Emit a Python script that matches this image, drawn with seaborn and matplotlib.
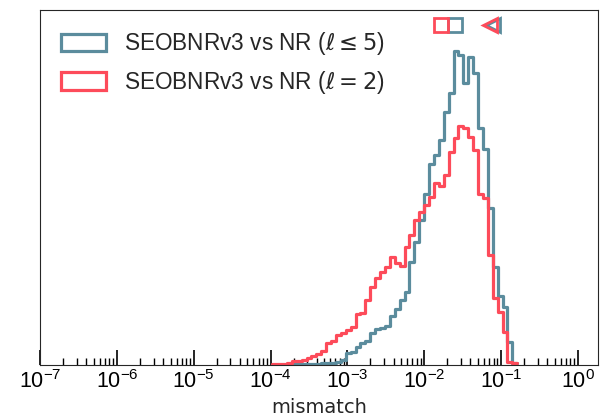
import numpy as np
import pandas as pd
import matplotlib
matplotlib.use("Agg")
import matplotlib.pyplot as plt
from matplotlib.patches import Patch
from matplotlib.ticker import LogLocator, NullLocator
import seaborn as sns

# shared log-spaced binning (log10 of mismatch)
log_lo, log_hi, n_bins = -3.978, -0.788, 50

# histogram counts per bin
hm_counts = [0, 0, 0, 0.3, 0.5, 0.5, 0.7, 0.8, 1, 1.2, 1.5, 1.8, 2.2,
             2.5, 5, 11.7, 13.3, 17.7, 21.5, 24, 31.7, 35.7, 36.7, 39,
             49, 55.7, 65, 73.3, 103.3, 123.3, 145, 171, 201, 210, 225,
             253.3, 272.3, 314.3, 310, 282.3, 307.7, 291.7, 236.7, 215.7,
             156.7, 98.3, 69, 58.3, 23.3, 1.7]
l2_counts = [0.7, 1, 1.3, 2.3, 4, 4.3, 5.3, 6.7, 9, 11, 14, 21.5, 24,
             30, 32.3, 35, 37.7, 51, 51.7, 65, 78.3, 86.7, 93.3, 97.7,
             108.3, 101.7, 99, 117.7, 130, 145, 153.3, 160, 168.3, 181.7,
             179, 190, 213.3, 226.7, 239, 236.7, 228.3, 215, 171, 166.7,
             110, 66.7, 53.3, 33.3, 3.3, 1.7]

# summary markers (median, 90th percentile)
hm_median, hm_p90 = 0.0254, 0.078
l2_median, l2_p90 = 0.0167, 0.0726

labels = [r"SEOBNRv3 vs NR ($\ell \leq 5$)", r"SEOBNRv3 vs NR ($\ell = 2$)"]
colors = ["#5b8c9d", "#fd4b5a"]

log_edges = np.linspace(log_lo, log_hi, n_bins + 1)
centers = 10 ** ((log_edges[:-1] + log_edges[1:]) / 2)
df = pd.DataFrame({"mismatch": centers, "hm": hm_counts, "l2": l2_counts})

sns.set_style("ticks")
plt.rcParams["font.family"] = ["Liberation Sans", "DejaVu Sans"]

fig, ax = plt.subplots(figsize=(6.08, 4.19), dpi=100)
fig.subplots_adjust(left=0.066, right=0.984, bottom=0.129, top=0.976)

for col, c in zip(["hm", "l2"], colors):
    sns.histplot(data=df, x="mismatch", weights=col, bins=n_bins,
                 binrange=(log_lo, log_hi), log_scale=True,
                 element="step", fill=False, color=c, linewidth=2.3, ax=ax)

# median and 90% markers above the histograms
trans = ax.get_xaxis_transform()
for med, p90, c in [(hm_median, hm_p90, colors[0]), (l2_median, l2_p90, colors[1])]:
    ax.plot([med], [0.959], marker="s", ms=10, mfc="none", mec=c, mew=2,
            transform=trans, clip_on=False, ls="none")
    ax.plot([p90], [0.959], marker="<", ms=10, mfc="none", mec=c, mew=2,
            transform=trans, clip_on=False, ls="none")

ax.set_xlim(1e-7, 1.85)
ax.set_ylim(0, 355)
ax.xaxis.set_major_locator(LogLocator(base=10, numticks=20))
ax.xaxis.set_minor_locator(LogLocator(base=10, subs=np.arange(2, 10), numticks=100))
ax.yaxis.set_major_locator(NullLocator())
ax.tick_params(axis="x", which="major", direction="in", length=11, width=1.2,
               labelsize=15.5, pad=4, colors="black")
ax.tick_params(axis="x", which="minor", direction="in", length=5, width=1,
               colors="black")
ax.set_ylabel("")
ax.set_xlabel("mismatch", fontsize=14, family="DejaVu Sans", labelpad=3)

handles = [Patch(facecolor="none", edgecolor=c, linewidth=2.3) for c in colors]
ax.legend(handles, labels, loc="upper left", frameon=False, fontsize=16.3,
          handlelength=2, handleheight=0.8)

fig.savefig("out.png", dpi=100)
